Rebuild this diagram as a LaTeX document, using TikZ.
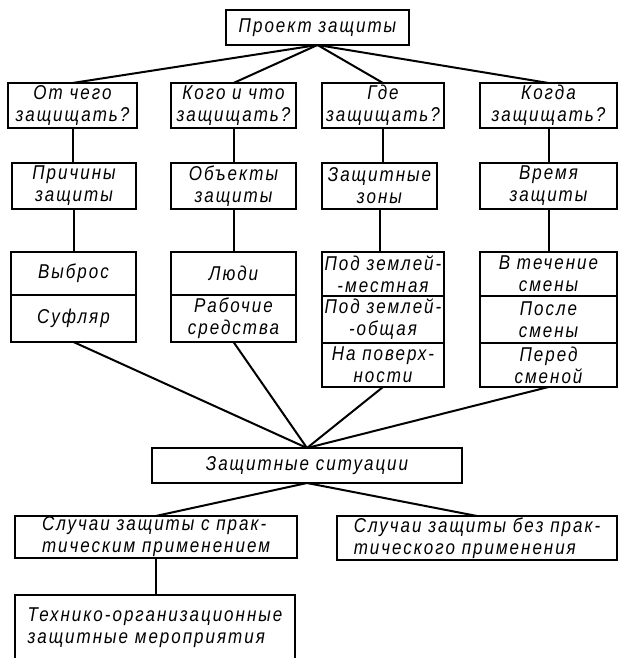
\documentclass[tikz,border=0pt]{standalone}
\usepackage{fontspec}
\setmainfont{Liberation Sans}[FakeStretch=0.85,LetterSpace=10]
\usetikzlibrary{positioning}

\begin{document}
\begin{tikzpicture}[x=1pt,y=-1pt,
  box/.style={draw,line width=2.5pt,outer sep=0pt,inner sep=1pt,align=center,
    font=\fontsize{20}{22}\selectfont\itshape},
  link/.style={line width=2pt}]
  \useasboundingbox (0,0) rectangle (618,658);
  \clip (0,0) rectangle (618,658);

  % Project
  \node[box,minimum width=183pt,minimum height=35pt] (proj) at (317.5,27.5) {Проект защиты};

  % Questions
  \node[box,minimum width=129pt,minimum height=45pt] (q1) at (72.5,105.5) {От чего\\защищать?};
  \node[box,minimum width=125pt,minimum height=45pt] (q2) at (233.5,105.5) {Кого и что\\защищать?};
  \node[box,minimum width=122pt,minimum height=45pt] (q3) at (383,105.5) {Где\\защищать?};
  \node[box,minimum width=137pt,minimum height=45pt] (q4) at (548.5,105.5) {Когда\\защищать?};

  % Aspects
  \node[box,minimum width=124pt,minimum height=46pt] (r1) at (74,186) {Причины\\защиты};
  \node[box,minimum width=125pt,minimum height=46pt] (r2) at (233.5,186) {Объекты\\защиты};
  \node[box,minimum width=115pt,minimum height=46pt] (r3) at (379.5,186) {Защитные\\зоны};
  \node[box,minimum width=137pt,minimum height=46pt] (r4) at (548.5,186) {Время\\защиты};

  % Stacked cells
  \node[box,minimum width=125pt,minimum height=43pt,anchor=north] (n11) at (73.5,252) {Выброс};
  \node[box,minimum width=125pt,minimum height=47pt,below=0pt of n11] (n12) {Суфляр};
  \node[box,minimum width=125pt,minimum height=43pt,anchor=north] (n21) at (233.5,252) {Люди};
  \node[box,minimum width=125pt,minimum height=47pt,below=0pt of n21] (n22) {Рабочие\\средства};
  \node[box,minimum width=122pt,minimum height=44pt,anchor=north] (n31) at (383,252) {Под землей-\\-местная};
  \node[box,minimum width=122pt,minimum height=47pt,below=0pt of n31] (n32) {Под землей-\\-общая};
  \node[box,minimum width=122pt,minimum height=44pt,below=0pt of n32] (n33) {На поверх-\\ности};
  \node[box,minimum width=137pt,minimum height=44pt,anchor=north] (n41) at (548.5,252) {В течение\\смены};
  \node[box,minimum width=137pt,minimum height=47pt,below=0pt of n41] (n42) {После\\смены};
  \node[box,minimum width=137pt,minimum height=44pt,below=0pt of n42] (n43) {Перед\\сменой};

  % Situations
  \node[box,minimum width=310pt,minimum height=35pt] (sit) at (307,465.5) {Защитные ситуации};
  \node[box,align=left,minimum width=282pt,minimum height=42pt] (case1) at (156,537) {Случаи защиты с прак-\\тическим применением};
  \node[box,align=left,minimum width=280pt,minimum height=44pt] (case2) at (477,538) {Случаи защиты без прак-\\тического применения};
  \node[box,align=left,minimum width=280pt,minimum height=66pt,anchor=north] (meas) at (155,595) {Технико-организационные\\защитные мероприятия};

  % Connectors
  \foreach \i in {1,...,4} {
    \draw[link] (proj.south) -- (q\i.north);
    \draw[link] (q\i.south) -- (q\i.south |- r\i.north);
    \draw[link] (r\i.south) -- (r\i.south |- n\i1.north);
  }
  \foreach \n in {n12,n22,n33,n43}
    \draw[link] (\n.south) -- (sit.north);
  \draw[link] (sit.south) -- (case1.north);
  \draw[link] (sit.south) -- (case2.north);
  \draw[link] (case1.south) -- (case1.south |- meas.north);
\end{tikzpicture}
\end{document}
